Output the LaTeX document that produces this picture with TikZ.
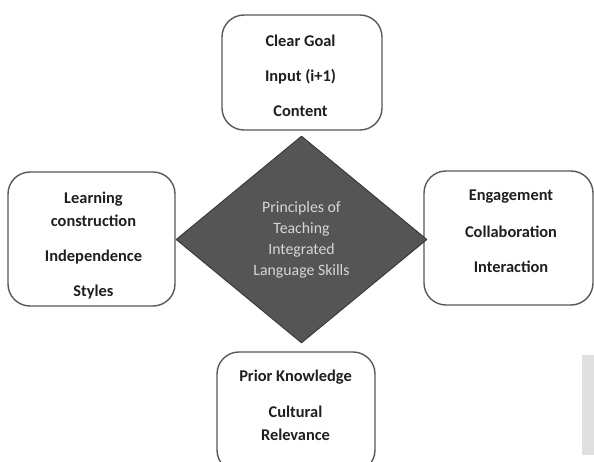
\documentclass[tikz,border=0pt]{standalone}
\usepackage{fontspec}
\setmainfont{Carlito}
\usetikzlibrary{shapes.geometric}
\definecolor{vien}{HTML}{585858}
\definecolor{nenthoi}{HTML}{555555}
\definecolor{chuthoi}{HTML}{D6D6D6}
\definecolor{xam}{HTML}{E0E0E0}
\begin{document}
\begin{tikzpicture}[x=1pt, y=-1pt, line join=round, line cap=round,
	hop/.style={draw=vien, line width=1.4pt, rounded corners=22pt, fill=white, rectangle},
	chu/.style={align=center, text=black!88, font=\fontsize{16.4}{23}\selectfont\bfseries},
	thoi/.style={diamond, draw=black!78, fill=nenthoi, line width=0.9pt, inner sep=0pt,
		text=chuthoi, align=center, font=\fontsize{15.8}{21}\selectfont}]
	% Khung hình
	\path[use as bounding box, clip] (0,0) rectangle (594,462);
	\fill[white] (0,0) rectangle (594,462);
	
	% Bốn hộp bo góc
	\node[hop, minimum width=160pt, minimum height=115pt] (tren) at (302,72.5) {};
	\node[hop, minimum width=167pt, minimum height=134pt] (trai) at (91.5,239) {};
	\node[hop, minimum width=169pt, minimum height=134pt] (phai) at (508.5,238) {};
	\node[hop, minimum width=158pt, minimum height=120pt] (duoi) at (296,412) {};
	
	% Hình thoi ở giữa
	\node[thoi, minimum width=251pt, minimum height=207pt] (giua) at (301.5,239.5)
		{Principles of\\Teaching\\Integrated\\Language Skills};
	
	% Chữ trong các hộp
	\node[chu] (trenchu) at (300.5,75.5) {Clear Goal\\[12pt]Input (i+1)\\[12pt]Content};
	\node[chu] (traichu) at (93.5,245.5) {Learning\\construction\\[12pt]Independence\\[12pt]Styles};
	\node[chu] (phaichu) at (511,231) {Engagement\\[14pt]Collaboration\\[12pt]Interaction};
	\node[chu] (duoichu) at (295.5,405) {Prior Knowledge\\[13pt]Cultural\\Relevance};
	
	% Dải xám bên phải
	\fill[xam] (582,355) rectangle (594,455);
\end{tikzpicture}
\end{document}
